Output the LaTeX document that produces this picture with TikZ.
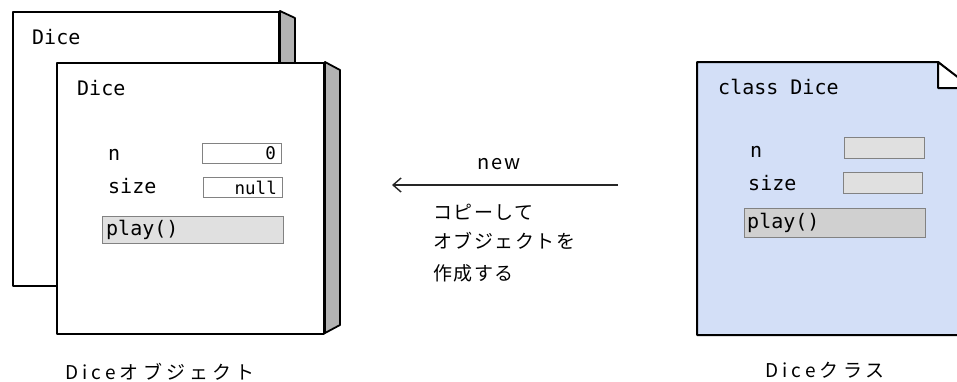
\documentclass[tikz,border=0pt]{standalone}
\usepackage{fontspec}
\setmonofont{DejaVu Sans Mono}
\newfontfamily\jpfont[LetterSpace=8]{Noto Sans CJK JP}
\newfontfamily\jplabel[LetterSpace=22]{Noto Sans CJK JP}
\usetikzlibrary{arrows.meta}
\definecolor{cardblue}{RGB}{211,223,247}
\definecolor{sidegray}{RGB}{178,178,178}
\definecolor{fieldgray}{RGB}{224,224,224}
\definecolor{playgray}{RGB}{208,208,208}
\definecolor{boxborder}{RGB}{130,130,130}
\begin{document}
\begin{tikzpicture}[x=1pt,y=-1pt,
  card/.style={draw=black, line width=2pt, fill=white, line join=round},
  sideface/.style={draw=black, line width=1.8pt, fill=sidegray, line join=round},
  field/.style={draw=boxborder, line width=1pt, fill=#1, inner sep=0pt, anchor=north west},
  field/.default=white,
  code/.style={font=\ttfamily\fontsize{20}{22}\selectfont, inner sep=0pt, anchor=west},
  val/.style={font=\ttfamily\fontsize{17.5}{18}\selectfont, inner sep=0pt, anchor=east},
  jp/.style={font=\jpfont\fontsize{19}{20}\selectfont, inner sep=0pt, anchor=west},
  lab/.style={font=\jplabel\fontsize{19}{20}\selectfont, inner sep=0pt}
]
\useasboundingbox (0,0) rectangle (957,381);
\clip (0,0) rectangle (957,381);

% back card
\fill[white] (0,0) rectangle (957,381);
\node[card, minimum width=266pt, minimum height=274pt, anchor=north west, inner sep=0pt] (back) at (12,11) {};
\draw[sideface] (back.north east) -- ++(15,7) -- ++(0,250) -- ++(-15,6) -- cycle;
\node[code] (backtitle) at (32,37) {Dice};

% front card
\node[card, minimum width=267pt, minimum height=271pt, anchor=north west, inner sep=0pt] (front) at (56,62) {};
\draw[sideface] (front.north east) -- ++(15,8) -- ++(0,255) -- ++(-15,8) -- cycle;
\node[code] (fronttitle) at (77,88) {Dice};
\node[code] (fn) at (108,155) {n};
\node[field, minimum width=79pt, minimum height=20pt] (fnbox) at (202,143) {};
\node[val] (fnval) at ([xshift=-6pt]fnbox.east) {0};
\node[code] (fsize) at (108,186) {size};
\node[field, minimum width=79pt, minimum height=20pt] (fsizebox) at (203,177) {};
\node[val] (fsizeval) at ([xshift=-6pt]fsizebox.east) {null};
\node[field=fieldgray, minimum width=181pt, minimum height=27pt] (fplay) at (102,216) {};
\node[code] (fplaytxt) at ([xshift=4pt]fplay.west) {play()};

% class card
\draw[card, fill=cardblue] (697,62) -- (938,62) -- (972,90) -- (972,335) -- (697,335) -- cycle;
\draw[card] (938,62) -- (938,88) -- (972,88) -- cycle;
\coordinate (cls) at (697,62);
\node[code] (ctitle) at (718,87) {class Dice};
\node[code] (cn) at (750,152) {n};
\node[field=fieldgray, minimum width=80pt, minimum height=21pt] (cnbox) at (844,137) {};
\node[code] (csize) at (748,183) {size};
\node[field=fieldgray, minimum width=79pt, minimum height=21pt] (csizebox) at (843,172) {};
\node[field=playgray, minimum width=181pt, minimum height=29pt] (cplay) at (744,208) {};
\node[code] (cplaytxt) at ([xshift=3pt]cplay.west) {play()};

% arrow
\coordinate (astart) at (618,185);
\coordinate (aend) at (392,185);
\draw[line width=1.4pt, draw=black!85, -{Straight Barb[length=8pt,width=14pt,line width=1.4pt]}] (astart) -- (aend);
\node[font=\jpfont\fontsize{20}{20}\selectfont, inner sep=0pt] (newlbl) at (499,164) {new};
\node[jp] (jp1) at (433,212) {コピーして};
\node[jp] (jp2) at (433,241) {オブジェクトを};
\node[jp] (jp3) at (433,273) {作成する};

% labels
\node[lab] (objlbl) at (160,372) {Diceオブジェクト};
\node[lab] (clslbl) at (825,370) {Diceクラス};
\end{tikzpicture}
\end{document}
